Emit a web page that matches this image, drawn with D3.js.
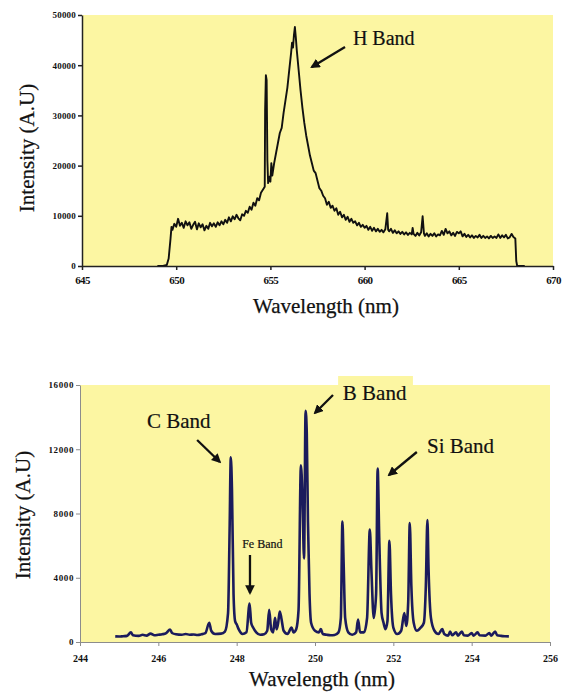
<!DOCTYPE html>
<html>
<head>
<meta charset="utf-8">
<script src="https://cdn.jsdelivr.net/npm/d3@7/dist/d3.min.js"></script>
<style>
  html, body { margin: 0; padding: 0; background: #fff; }
  svg { display: block; }
  text { font-family: "Liberation Serif", "Times New Roman", serif; fill: #111; }
</style>
</head>
<body>
<svg id="chart" width="571" height="693"></svg>
<script>
// ---- H-alpha region spectrum (upper panel) ----
const hWavelength = [
  649.0, 649.3, 649.5, 649.6, 649.7, 649.75, 649.8, 649.9,
  650.0, 650.1, 650.2, 650.3, 650.4, 650.5, 650.6, 650.7, 650.8, 650.9,
  651.0, 651.1, 651.2, 651.3, 651.4, 651.5, 651.6, 651.7, 651.8, 651.9,
  652.0, 652.1, 652.2, 652.3, 652.4, 652.5, 652.6, 652.7, 652.8, 652.9,
  653.0, 653.1, 653.2, 653.3, 653.4, 653.5, 653.6, 653.7, 653.8, 653.9,
  654.0, 654.1, 654.2, 654.3, 654.4, 654.5, 654.6, 654.7, 654.72, 654.76,
  654.8, 654.84, 654.88, 654.95, 655.0, 655.05, 655.1, 655.2, 655.3, 655.4,
  655.5, 655.6, 655.7, 655.8, 655.9, 656.0, 656.1, 656.15, 656.2, 656.25,
  656.3, 656.35, 656.4, 656.5, 656.6, 656.7, 656.8, 656.9, 657.0, 657.1,
  657.2, 657.3, 657.4, 657.5, 657.6, 657.7, 657.8, 657.9, 658.0, 658.1,
  658.2, 658.3, 658.4, 658.5, 658.6, 658.7, 658.8, 658.9, 659.0, 659.1,
  659.2, 659.3, 659.4, 659.5, 659.6, 659.7, 659.8, 659.9, 660.0, 660.1,
  660.2, 660.3, 660.4, 660.5, 660.6, 660.7, 660.8, 660.9, 661.0, 661.1,
  661.2, 661.25, 661.3, 661.4, 661.5, 661.6, 661.7, 661.8, 661.9, 662.0,
  662.1, 662.2, 662.3, 662.4, 662.5, 662.55, 662.6, 662.7, 662.8, 662.9,
  663.0, 663.08, 663.15, 663.2, 663.3, 663.4, 663.5, 663.6, 663.7, 663.8,
  663.9, 664.0, 664.1, 664.2, 664.3, 664.4, 664.5, 664.6, 664.7, 664.8,
  664.9, 665.0, 665.1, 665.2, 665.3, 665.4, 665.5, 665.6, 665.7, 665.8,
  665.9, 666.0, 666.1, 666.2, 666.3, 666.4, 666.5, 666.6, 666.7, 666.8,
  666.9, 667.0, 667.1, 667.2, 667.3, 667.4, 667.5, 667.6, 667.7, 667.8,
  667.9, 668.0, 668.05, 668.1, 668.5
];
const hIntensity = [
  0, 0, 200, 1500, 5500, 7800, 7200, 8400,
  7800, 9400, 8000, 8600, 7600, 8900, 8100, 8700, 7400, 8200,
  8800, 7300, 8500, 7700, 8300, 7100, 8000, 7400, 8600, 7900,
  8500, 7800, 8700, 8100, 8900, 8300, 9200, 8600, 9700, 8900,
  9900, 9300, 10200, 9500, 9100, 10300, 10000, 11000, 10600, 11800,
  11200, 12600, 12000, 13500, 13100, 14600, 15200, 15800, 31000, 38000,
  37000, 21000, 16500, 17800, 16800, 20500, 18000, 20500, 22500, 24500,
  26500, 27500, 30500, 33000, 35500, 39000, 42500, 44500, 43500, 46000,
  47600, 45500, 43000, 39000, 35000, 31500, 28500, 26000, 24000, 22000,
  20500, 19000, 18500, 17000, 15500, 15000, 14000, 13500, 12200, 12800,
  11600, 12000, 11000, 11500, 10200, 10800, 9700, 10200, 9200, 9800,
  8800, 9400, 8600, 8900, 8100, 8600, 7800, 8200, 7600, 8000,
  7200, 7800, 7000, 7600, 6900, 7400, 6800, 7200, 6700, 7300,
  10500, 7200, 6900, 7400, 6600, 7100, 6500, 6900, 6400, 6800,
  6300, 6700, 6200, 6600, 6300, 7600, 6400, 6000, 6600, 6100,
  6700, 9900, 6500, 6000, 6500, 5900, 6400, 6000, 6500, 5900,
  6300, 6100, 7000, 6200, 7400, 6500, 6900, 6100, 6600, 6000,
  6800, 6500, 6900, 5900, 6400, 5800, 6200, 5700, 6100, 5600,
  6000, 5700, 6200, 5600, 6000, 5600, 5900, 5500, 6000, 5600,
  5900, 5600, 6300, 5600, 6100, 5700, 6200, 5500, 5700, 6400,
  5800, 5500, 1000, 0, 0
];
const hXTicks = [645, 650, 655, 660, 665, 670];
const hYTicks = [0, 10000, 20000, 30000, 40000, 50000];

// ---- 244-255 nm region spectrum (lower panel) ----
const bWavelength = [
  244.9, 245.0, 245.1, 245.2, 245.3, 245.35, 245.5, 245.6, 245.7, 245.8,
  245.9, 246.0, 246.1, 246.2, 246.3, 246.35, 246.45, 246.6, 246.7, 246.8,
  246.9, 247.0, 247.1, 247.2, 247.3, 247.35, 247.45, 247.6, 247.7, 247.78,
  247.82, 247.85, 247.88, 247.92, 247.96, 248.0, 248.05, 248.15, 248.25, 248.33,
  248.37, 248.42, 248.5, 248.6, 248.7, 248.78, 248.83, 248.88, 248.93, 248.98,
  249.02, 249.06, 249.1, 249.14, 249.2, 249.3, 249.4, 249.45, 249.52, 249.58,
  249.64, 249.68, 249.72, 249.76, 249.79, 249.82, 249.86, 249.9, 250.0, 250.1,
  250.15, 250.2, 250.3, 250.4, 250.5, 250.6, 250.66, 250.7, 250.73, 250.77,
  250.85, 250.95, 251.05, 251.1, 251.15, 251.25, 251.33, 251.4, 251.44, 251.5,
  251.56, 251.6, 251.64, 251.7, 251.75, 251.8, 251.85, 251.9, 251.94, 252.0,
  252.1, 252.2, 252.28, 252.33, 252.38, 252.42, 252.46, 252.52, 252.6, 252.7,
  252.78, 252.83, 252.87, 252.9, 252.96, 253.05, 253.15, 253.25, 253.3, 253.4,
  253.45, 253.5, 253.6, 253.65, 253.75, 253.8, 253.9, 254.0, 254.05, 254.15,
  254.2, 254.35, 254.45, 254.5, 254.6, 254.65, 254.75, 254.85, 254.95
];
const bIntensity = [
  350, 340, 360, 380, 600, 420, 380, 450, 400, 520,
  420, 450, 480, 550, 780, 560, 480, 450, 500, 450,
  470, 440, 480, 550, 1200, 700, 500, 520, 650, 1800,
  7000, 11500, 9500, 3000, 1300, 1100, 800, 500, 600, 2400,
  1200, 900, 600, 450, 480, 700, 2000, 800, 600, 1500,
  800, 1200, 1900, 1500, 700, 500, 900, 600, 800, 2000,
  11000, 9000, 5200, 14400, 13000, 7500, 3000, 1200, 700, 600,
  800, 500, 450, 420, 440, 600, 1500, 7500, 5000, 1500,
  600, 450, 600, 1400, 600, 600, 1500, 7000, 4500, 1500,
  3000, 10800, 6500, 1800, 1200, 800, 1300, 6300, 3000, 900,
  500, 700, 1800, 1000, 2500, 7400, 3500, 1200, 700, 900,
  1200, 3500, 7600, 4500, 1500, 700, 500, 800, 500, 400,
  650, 420, 600, 400, 650, 420, 400, 550, 400, 600,
  420, 400, 550, 400, 650, 420, 380, 360, 350
];
const bXTicks = [244, 246, 248, 250, 252, 254, 256];
const bYTicks = [0, 4000, 8000, 12000, 16000];

// ---- band labels: label anchor, arrow tail and arrow tip, in data units ----
const hBands = [
  { name: "H Band", lx: 659.38, ly: 44020, x1: 658.96, y1: 43630, x2: 657.2, y2: 39640, size: 20 }
];
const bBands = [
  { name: "C Band",  lx: 245.71, ly: 13320, x1: 246.99, y1: 12576, x2: 247.57, y2: 11206, size: 21 },
  { name: "Fe Band", lx: 248.14, ly: 5852,  x1: 248.34, y1: 5416,  x2: 248.34, y2: 3050,  size: 12 },
  { name: "B Band",  lx: 250.71, ly: 15066, x1: 250.46, y1: 15377, x2: 250.0,  y2: 14257, size: 21 },
  { name: "Si Band", lx: 252.86, ly: 11767, x1: 252.60, y1: 11829, x2: 251.89, y2: 10397, size: 21 }
];

const svg = d3.select("#chart");
const plotFill = "#fcf6a2";

svg.append("defs").append("marker")
  .attr("id", "head")
  .attr("viewBox", "0 0 10 10")
  .attr("refX", 8).attr("refY", 5)
  .attr("markerWidth", 4.2).attr("markerHeight", 4.2)
  .attr("markerUnits", "strokeWidth")
  .attr("orient", "auto")
  .append("path").attr("d", "M0,0 L10,5 L0,10 Z").attr("fill", "#111");

function drawPanel(cfg) {
  const x = d3.scaleLinear().domain(cfg.xDomain).range([cfg.left, cfg.right]);
  const y = d3.scaleLinear().domain(cfg.yDomain).range([cfg.bottom, cfg.top]);
  const g = svg.append("g");

  g.append("rect")
    .attr("x", cfg.left).attr("y", cfg.top)
    .attr("width", cfg.right - cfg.left).attr("height", cfg.bottom - cfg.top)
    .attr("fill", plotFill);

  if (cfg.extraFill) {
    const e = cfg.extraFill;
    g.append("rect")
      .attr("x", x(e.x0)).attr("y", y(e.y1))
      .attr("width", x(e.x1) - x(e.x0)).attr("height", y(cfg.yDomain[1]) - y(e.y1) + 1)
      .attr("fill", plotFill);
  }

  // spectrum trace
  const pts = cfg.xs.map((d, i) => [d, cfg.ys[i]]);
  g.append("path")
    .datum(pts)
    .attr("fill", "none")
    .attr("stroke", cfg.lineColor)
    .attr("stroke-width", cfg.lineWidth)
    .attr("stroke-linejoin", "round")
    .attr("d", d3.line().x(d => x(d[0])).y(d => y(d[1])).curve(cfg.curve));

  // axes
  const xAxis = g.append("g")
    .attr("transform", `translate(0,${cfg.bottom})`)
    .call(d3.axisBottom(x).tickValues(cfg.xTicks).tickSize(4).tickSizeOuter(0).tickFormat(d3.format("d")));
  const yAxis = g.append("g")
    .attr("transform", `translate(${cfg.left},0)`)
    .call(d3.axisLeft(y).tickValues(cfg.yTicks).tickSize(4).tickSizeOuter(0).tickFormat(d3.format("d")));

  [xAxis, yAxis].forEach(a => {
    a.select(".domain").attr("stroke", cfg.axisColor).attr("stroke-width", cfg.axisWidth);
    a.selectAll(".tick line").attr("stroke", cfg.axisColor).attr("stroke-width", cfg.axisWidth);
    a.selectAll(".tick text")
      .attr("font-family", "Liberation Serif, serif")
      .attr("font-weight", "bold")
      .attr("fill", "#111");
  });
  xAxis.selectAll(".tick text").attr("font-size", cfg.xTickSize).attr("dy", cfg.xTickDy)
    .attr("letter-spacing", cfg.xTickSpacing);
  yAxis.selectAll(".tick text").attr("font-size", cfg.yTickSize).attr("x", -6)
    .attr("letter-spacing", cfg.yTickSpacing);

  // axis titles
  g.append("text")
    .attr("x", cfg.xTitle[0]).attr("y", cfg.xTitle[1])
    .attr("text-anchor", "middle").attr("font-size", 21)
    .attr("stroke", "#111").attr("stroke-width", 0.25)
    .text("Wavelength (nm)");
  g.append("text")
    .attr("transform", `translate(${cfg.yTitle[0]},${cfg.yTitle[1]}) rotate(-90)`)
    .attr("text-anchor", "middle").attr("font-size", 21)
    .attr("stroke", "#111").attr("stroke-width", 0.25)
    .text("Intensity (A.U)");

  // band annotations
  cfg.bands.forEach(b => {
    g.append("text")
      .attr("x", x(b.lx)).attr("y", y(b.ly))
      .attr("font-size", b.size)
      .attr("stroke", "#111").attr("stroke-width", 0.2)
      .text(b.name);
    g.append("line")
      .attr("x1", x(b.x1)).attr("y1", y(b.y1))
      .attr("x2", x(b.x2)).attr("y2", y(b.y2))
      .attr("stroke", "#111").attr("stroke-width", 2.3)
      .attr("marker-end", "url(#head)");
  });
}

drawPanel({
  xDomain: [645, 670], yDomain: [0, 50000],
  left: 82, right: 553, top: 15, bottom: 266,
  xs: hWavelength, ys: hIntensity,
  lineColor: "#111", lineWidth: 1.9, curve: d3.curveLinear,
  xTicks: hXTicks, yTicks: hYTicks,
  axisColor: "#222", axisWidth: 1.5,
  xTickSize: 11, xTickDy: "1.0em", xTickSpacing: -0.6,
  yTickSize: 9, yTickSpacing: 0.2,
  xTitle: [326, 313], yTitle: [34, 148],
  bands: hBands
});

drawPanel({
  xDomain: [244, 256], yDomain: [0, 16000],
  left: 80, right: 550, top: 385, bottom: 642,
  xs: bWavelength, ys: bIntensity,
  lineColor: "#1b1b5c", lineWidth: 2.6, curve: d3.curveMonotoneX,
  xTicks: bXTicks, yTicks: bYTicks,
  axisColor: "#8c8c8c", axisWidth: 1,
  xTickSize: 10, xTickDy: "1.25em", xTickSpacing: 0,
  yTickSize: 9, yTickSpacing: 0.6,
  xTitle: [322, 686], yTitle: [30, 515],
  bands: bBands,
  extraFill: { x0: 250.59, x1: 252.5, y1: 16560 }
});
</script>
</body>
</html>
